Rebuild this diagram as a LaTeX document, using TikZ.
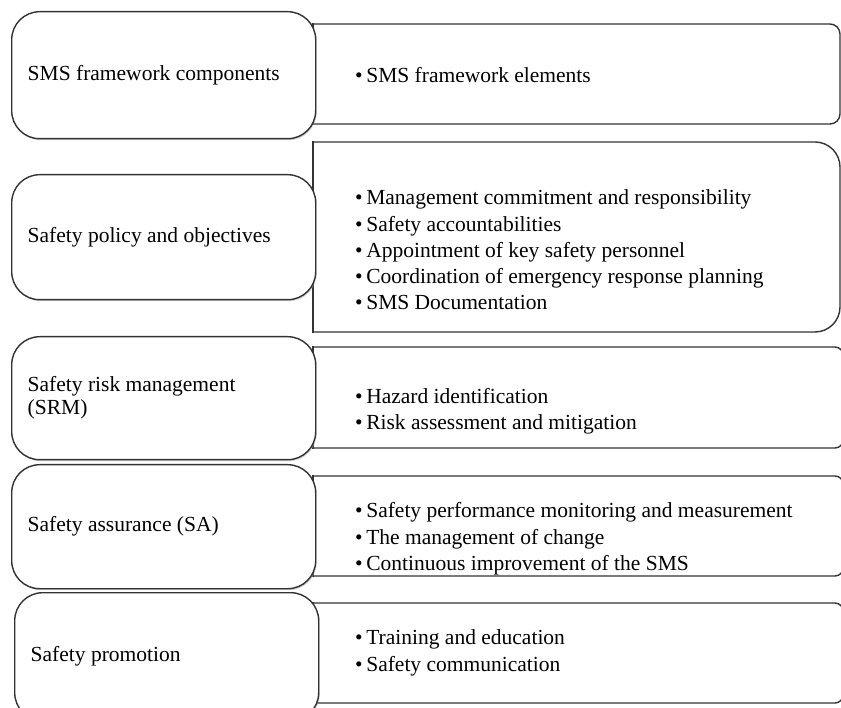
\documentclass[tikz,border=0pt]{standalone}
\usepackage{fontspec}
\setmainfont{Liberation Serif}
\usepackage{tikz}
\usetikzlibrary{shadows}

\begin{document}
\begin{tikzpicture}[x=1pt,y=-1pt,
  boxline/.style={draw=black!80, line width=1.4pt},
  leftbox/.style={boxline, fill=white, rounded corners=28pt, anchor=north west, minimum width=304pt, text width=272pt, inner xsep=16pt, align=flush left, font=\fontsize{21.5}{23}\selectfont, drop shadow={shadow xshift=1pt,shadow yshift=-1.5pt,fill=black!35}},
  itemlist/.style={anchor=west, inner sep=0pt, align=left, font=\fontsize{21.5}{26.3}\selectfont}]
\useasboundingbox (0,0) rectangle (841,708);
\begin{scope}
\clip (0,0) rectangle (841,708);
\foreach \t/\b/\R/\r in {24/124/840/10, 142/332/840/25, 347/448/843/8, 476/576/843/8, 603/703/843/8}
{
  \draw[boxline, rounded corners=\r pt] (313,\t) -- (\R,\t) -- (\R,\b) -- (313,\b);
  \draw[boxline, line cap=rect] (313,\t) -- (313,\b);
}
\node[leftbox, minimum height=127pt] (frame) at (11,11) {SMS framework components};
\node[leftbox, minimum height=125pt] (policy) at (11,174) {Safety policy and objectives};
\node[leftbox, minimum height=123pt] (risk) at (11,336) {Safety risk management\\(SRM)};
\node[leftbox, minimum height=124pt] (assure) at (11,464) {Safety assurance (SA)};
\node[leftbox, minimum height=128pt] (promo) at (14,592) {Safety promotion};
\node[itemlist] (frameitems) at (355,75) {\textbullet\,SMS framework elements};
\node[itemlist] (policyitems) at (355,250) {\textbullet\,Management commitment and responsibility\\\textbullet\,Safety accountabilities\\\textbullet\,Appointment of key safety personnel\\\textbullet\,Coordination of emergency response planning\\\textbullet\,SMS Documentation};
\node[itemlist] (riskitems) at (355,411) {\textbullet\,Hazard identification\\\textbullet\,Risk assessment and mitigation};
\node[itemlist] (assureitems) at (355,539) {\textbullet\,Safety performance monitoring and measurement\\\textbullet\,The management of change\\\textbullet\,Continuous improvement of the SMS};
\node[itemlist] (promoitems) at (355,653) {\textbullet\,Training and education\\\textbullet\,Safety communication};
\end{scope}
\end{tikzpicture}
\end{document}
